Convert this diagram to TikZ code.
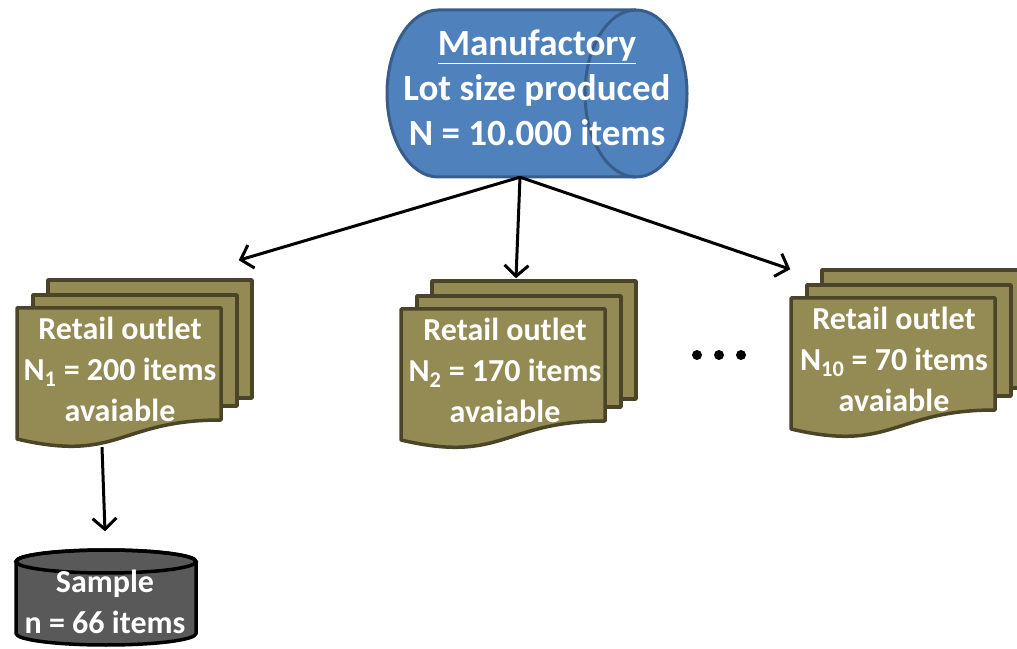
\documentclass[tikz,border=0pt]{standalone}
\usepackage{fontspec}
\setmainfont{Carlito}
\usetikzlibrary{arrows.meta}
\definecolor{manblue}{HTML}{4F81BD}
\definecolor{manedge}{HTML}{385D8A}
\definecolor{olive}{HTML}{948A54}
\definecolor{oliveedge}{HTML}{4A4528}
\definecolor{smpgray}{HTML}{595959}
\begin{document}
\begin{tikzpicture}[
	x=1pt, y=1pt,
	% Define the styles for the shapes
	manshape/.style={draw=manedge, fill=manblue, line width=3pt},
	smpshape/.style={draw=black, fill=smpgray, line width=3.5pt},
	sheet/.style={draw=oliveedge, fill=olive, line width=3.5pt, line join=round},
	sheetbox/.style={sheet, rectangle, minimum width=204, minimum height=#1},
	txt/.style={align=center, text=white, inner sep=0pt,
		font=\bfseries\fontsize{32}{41}\selectfont},
	arr/.style={line width=3pt, -{Straight Barb[length=11pt,width=24pt]}}
	]
	\useasboundingbox (0,0) rectangle (1017,648);
	
	% --- MANUFACTORY ---
	\draw[manshape] (438,638) -- (636,638)
		arc[start angle=90, end angle=-90, x radius=51, y radius=83.5] -- (438,471)
		arc[start angle=270, end angle=90, x radius=51, y radius=83.5] -- cycle;
	\draw[manshape, fill=none] (636,638)
		arc[start angle=90, end angle=270, x radius=51, y radius=83.5];
	\node[txt, minimum width=300, minimum height=178,
		font=\bfseries\fontsize{37}{45}\selectfont] (man) at (537,560)
		{\underline{Manufactory}\\Lot size produced\\N = 10.000 items};
	
	% --- RETAIL OUTLETS ---
	% back sheet, middle sheet, front document, text
	\node[sheetbox=118] (o1b) at (150,309) {};
	\node[sheetbox=111] (o1m) at (135,297.5) {};
	\draw[sheet, shift={(17,340)}] (0,0) -- (204,0) -- (204,-112)
		.. controls (102,-112) and (102,-155) .. (0,-131) -- cycle;
	\node[txt, minimum height=156] (o1) at (120,279)
		{Retail outlet\\N\textsubscript{1} = 200 items\\avaiable};
	
	\node[sheetbox=118] (o2b) at (534,308) {};
	\node[sheetbox=111] (o2m) at (519,296.5) {};
	\draw[sheet, shift={(401,339)}] (0,0) -- (204,0) -- (204,-112)
		.. controls (102,-112) and (102,-155) .. (0,-131) -- cycle;
	\node[txt, minimum height=156] (o2) at (505,278)
		{Retail outlet\\N\textsubscript{2} = 170 items\\avaiable};
	
	\node[sheetbox=118] (o3b) at (924,319) {};
	\node[sheetbox=111] (o3m) at (909,307.5) {};
	\draw[sheet, shift={(791,350)}] (0,0) -- (204,0) -- (204,-112)
		.. controls (102,-112) and (102,-155) .. (0,-131) -- cycle;
	\node[txt, minimum height=156] (o3) at (894,289)
		{Retail outlet\\N\textsubscript{10} = 70 items\\avaiable};
	
	% --- DOTS ---
	\fill (697,293) circle (5);
	\fill (719,293) circle (5);
	\fill (741,293) circle (5);
	
	% --- SAMPLE ---
	\draw[smpshape] (16,86.5) -- (16,14.5)
		arc[start angle=180, end angle=360, x radius=90, y radius=11.5] -- (196,86.5)
		arc[start angle=0, end angle=180, x radius=90, y radius=11.5] -- cycle;
	\draw[smpshape, fill=none] (106,86.5) ellipse[x radius=90, y radius=11.5];
	\node[txt, minimum width=180, minimum height=140] (smp) at (105,46.5)
		{Sample\\n = 66 items};
	
	% --- EDGES ---
	\draw[arr] ([xshift=-17]man.south) -- ([shift={(-15,18)}]o1b.north east);
	\draw[arr] ([xshift=-17]man.south) -- ([shift={(-18,1)}]o2b.north);
	\draw[arr] ([xshift=-17]man.south) -- ([shift={(-30,-1)}]o3b.north west);
	\draw[arr] ([xshift=-18]o1.south) -- (smp.north);
	
\end{tikzpicture}
\end{document}
